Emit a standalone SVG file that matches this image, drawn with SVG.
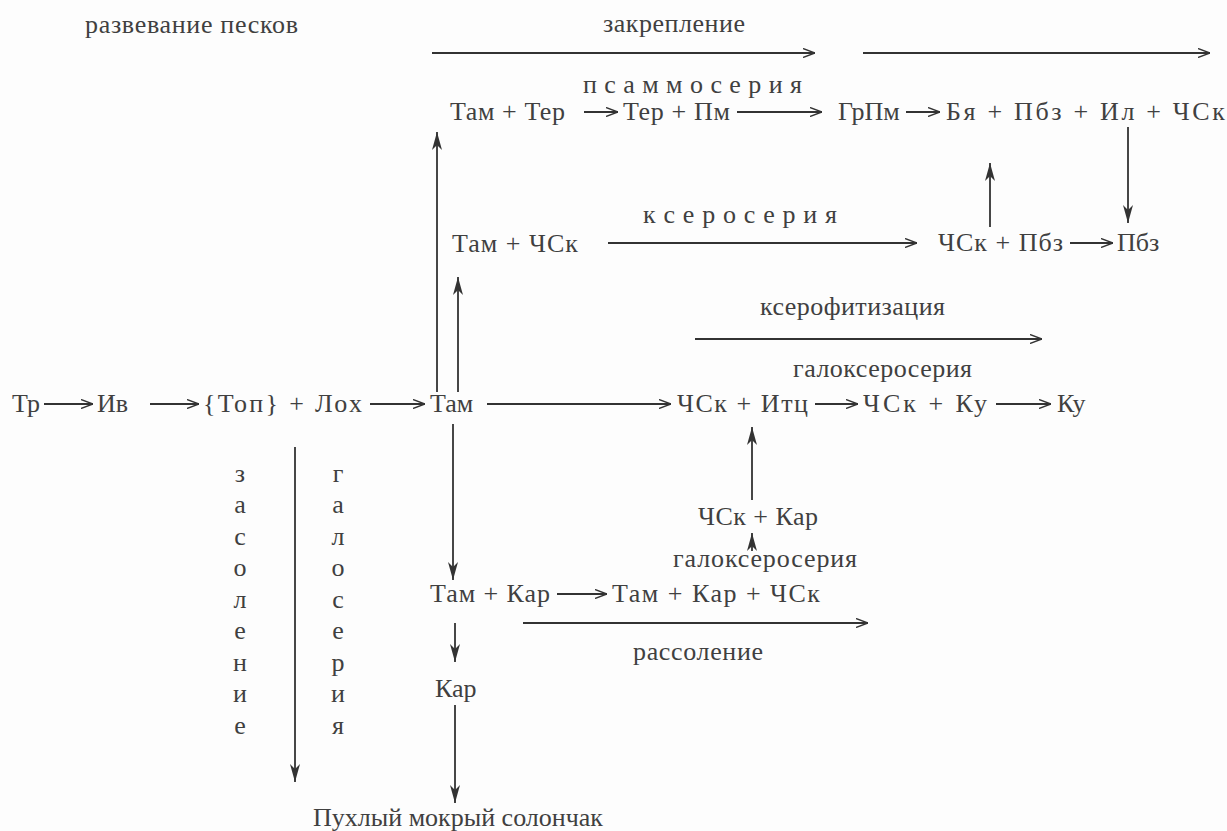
<svg xmlns="http://www.w3.org/2000/svg" width="1227" height="831" viewBox="0 0 1227 831" font-family="'Liberation Serif','Times New Roman',serif">
<defs>
<style>
text{font-family:"Liberation Serif","Times New Roman",serif;font-size:26px;fill:#404040}
.ln{stroke:#333;stroke-width:1.8;fill:none}
</style>
<marker id="chev" markerUnits="userSpaceOnUse" viewBox="0 0 12 10" refX="12" refY="5" markerWidth="12" markerHeight="10" orient="auto">
<path d="M0,0.5 L12,5 L0,9.5" fill="none" stroke="#333" stroke-width="1.4"/>
</marker>
<marker id="head" markerUnits="userSpaceOnUse" viewBox="0 0 18 10" refX="18" refY="5" markerWidth="18" markerHeight="10" orient="auto">
<path d="M0,0 L18,5 L0,10 L5,5 z" fill="#333"/>
</marker>
</defs>
<rect width="1227" height="831" fill="#fdfdfd"/>
<g id="connectors">
<line class="ln" x1="432" y1="53" x2="815" y2="53" marker-end="url(#chev)"/>
<line class="ln" x1="863" y1="53" x2="1210" y2="53" marker-end="url(#chev)"/>
<line class="ln" x1="584" y1="112" x2="618" y2="112" marker-end="url(#chev)"/>
<line class="ln" x1="737" y1="112" x2="822" y2="112" marker-end="url(#chev)"/>
<line class="ln" x1="906" y1="112" x2="940" y2="112" marker-end="url(#chev)"/>
<line class="ln" x1="1128" y1="127" x2="1128" y2="223" marker-end="url(#head)"/>
<line class="ln" x1="990" y1="227" x2="990" y2="163" marker-end="url(#head)"/>
<line class="ln" x1="608" y1="243" x2="917" y2="243" marker-end="url(#chev)"/>
<line class="ln" x1="1070" y1="243" x2="1113" y2="243" marker-end="url(#chev)"/>
<line class="ln" x1="695" y1="339" x2="1042" y2="339" marker-end="url(#chev)"/>
<line class="ln" x1="44" y1="404" x2="93" y2="404" marker-end="url(#chev)"/>
<line class="ln" x1="150" y1="404" x2="199" y2="404" marker-end="url(#chev)"/>
<line class="ln" x1="370" y1="404" x2="425" y2="404" marker-end="url(#chev)"/>
<line class="ln" x1="487" y1="404" x2="671" y2="404" marker-end="url(#chev)"/>
<line class="ln" x1="815" y1="404" x2="858" y2="404" marker-end="url(#chev)"/>
<line class="ln" x1="996" y1="404" x2="1051" y2="404" marker-end="url(#chev)"/>
<line class="ln" x1="437" y1="392" x2="437" y2="132" marker-end="url(#head)"/>
<line class="ln" x1="458" y1="392" x2="458" y2="277" marker-end="url(#head)"/>
<line class="ln" x1="453" y1="424" x2="453" y2="580" marker-end="url(#head)"/>
<line class="ln" x1="752" y1="500" x2="752" y2="427" marker-end="url(#head)"/>
<line class="ln" x1="752" y1="551" x2="752" y2="533" marker-end="url(#head)"/>
<line class="ln" x1="557" y1="594" x2="607" y2="594" marker-end="url(#chev)"/>
<line class="ln" x1="523" y1="623" x2="868" y2="623" marker-end="url(#chev)"/>
<line class="ln" x1="455" y1="623" x2="455" y2="662" marker-end="url(#head)"/>
<line class="ln" x1="455" y1="705" x2="455" y2="803" marker-end="url(#head)"/>
<line class="ln" x1="295" y1="447" x2="295" y2="782" marker-end="url(#head)"/>
</g>
<g id="labels">
<text x="85" y="33" textLength="213">развевание песков</text>
<text x="603" y="32" textLength="142">закрепление</text>
<text x="583" y="93" textLength="219">п с а м м о с е р и я</text>
<text x="643" y="223" textLength="194">к с е р о с е р и я</text>
<text x="760" y="315" textLength="185">ксерофитизация</text>
<text x="793" y="377" textLength="179">галоксеросерия</text>
<text x="673" y="567" textLength="184">галоксеросерия</text>
<text x="633" y="660" textLength="130">рассоление</text>
</g>
<g id="n-tam-ter"><text x="450" y="120" textLength="115">Там + Тер</text></g>
<g id="n-ter-pm"><text x="623" y="120" textLength="107">Тер +  Пм</text></g>
<g id="n-grpm"><text x="838" y="120">ГрПм</text></g>
<g id="n-bya"><text x="946" y="120" textLength="279">Бя + Пбз + Ил + ЧСк</text></g>
<g id="n-tam-chsk"><text x="452" y="252" textLength="126">Там + ЧСк</text></g>
<g id="n-chsk-pbz"><text x="938" y="251" textLength="125">ЧСк + Пбз</text></g>
<g id="n-pbz"><text x="1117" y="251">Пбз</text></g>
<g id="n-tr"><text x="12" y="412">Тр</text></g>
<g id="n-iv"><text x="97" y="412">Ив</text></g>
<g id="n-top-lox"><text x="203" y="412" textLength="159">{Топ} + Лох</text></g>
<g id="n-tam"><text x="430" y="412">Там</text></g>
<g id="n-chsk-itc"><text x="677" y="412" textLength="131">ЧСк + Итц</text></g>
<g id="n-chsk-ku"><text x="863" y="412" textLength="124">ЧСк + Ку</text></g>
<g id="n-ku"><text x="1057" y="412">Ку</text></g>
<g id="n-chsk-kar"><text x="698" y="525" textLength="120">ЧСк + Кар</text></g>
<g id="n-tam-kar"><text x="430" y="602" textLength="120">Там + Кар</text></g>
<g id="n-tam-kar-chsk"><text x="612" y="602" textLength="208">Там + Кар + ЧСк</text></g>
<g id="n-kar"><text x="435" y="697">Кар</text></g>
<g id="n-solonchak"><text x="313" y="826">Пухлый мокрый солончак</text></g>
<g id="vertical-labels" text-anchor="middle">
<text x="240" y="482">з</text><text x="240" y="513">а</text><text x="240" y="545">с</text><text x="240" y="576">о</text><text x="240" y="608">л</text><text x="240" y="639">е</text><text x="240" y="671">н</text><text x="240" y="702">и</text><text x="240" y="734">е</text>
<text x="338" y="482">г</text><text x="338" y="513">а</text><text x="338" y="545">л</text><text x="338" y="576">о</text><text x="338" y="608">с</text><text x="338" y="639">е</text><text x="338" y="671">р</text><text x="338" y="702">и</text><text x="338" y="734">я</text>
</g>
</svg>
